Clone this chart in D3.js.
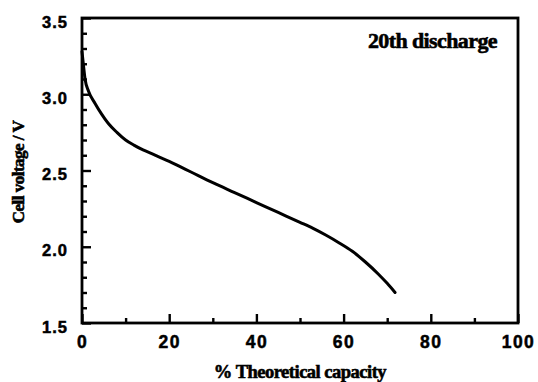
<!DOCTYPE html>
<html>
<head>
<meta charset="utf-8">
<script src="https://cdn.jsdelivr.net/npm/d3@7"></script>
<style>
  html, body { margin: 0; padding: 0; background: #fff; }
  svg { display: block; }
</style>
</head>
<body>
<svg id="chart" width="538" height="382"></svg>
<script>
// Discharge curve: cell voltage vs. % of theoretical capacity (20th discharge)
const capacity = [0, 0.3, 0.7, 1.5, 3, 4.5, 6, 8, 10, 12, 14, 16, 18, 20, 22.5, 25,
                  30, 35, 40, 45, 50, 53, 56, 59, 62, 65, 68, 70, 71.8];
const voltage  = [3.28, 3.20, 3.10, 3.02, 2.94, 2.87, 2.81, 2.75, 2.70, 2.665, 2.635, 2.61, 2.585, 2.56, 2.525, 2.49,
                  2.42, 2.355, 2.29, 2.225, 2.16, 2.12, 2.075, 2.025, 1.97, 1.90, 1.82, 1.76, 1.70];

const xTicks = [0, 20, 40, 60, 80, 100];
const xMinorTicks = [10, 30, 50, 70, 90];
const yTicks = [1.5, 2.0, 2.5, 3.0, 3.5];
const yMinorTicks = d3.range(16, 35).map(d => d / 10).filter(d => Math.abs(d * 2 - Math.round(d * 2)) > 1e-6);

const xTitle = "% Theoretical capacity";
const yTitle = "Cell voltage / V";
const note = "20th discharge";

const svg = d3.select("#chart");
const m = { left: 82, right: 20, top: 18, bottom: 59 };
const W = 538, H = 382;

const x = d3.scaleLinear().domain([0, 100]).range([m.left, W - m.right]);
const y = d3.scaleLinear().domain([1.5, 3.5]).range([H - m.bottom, m.top]);

const sans = "'Liberation Sans', Arial, sans-serif";
const serif = "'Liberation Serif', 'Times New Roman', serif";

// frame
svg.append("rect")
  .attr("x", x(0)).attr("y", y(3.5))
  .attr("width", x(100) - x(0)).attr("height", y(1.5) - y(3.5))
  .attr("fill", "none").attr("stroke", "#000").attr("stroke-width", 2.8);

// bottom axis: inward ticks
const gx = svg.append("g").attr("transform", `translate(0,${y(1.5)})`);
gx.call(d3.axisBottom(x).tickValues(xTicks).tickSize(-9).tickFormat(d3.format("d")).tickPadding(13));
gx.append("g").call(d3.axisBottom(x).tickValues(xMinorTicks).tickSize(-5).tickFormat(""));
gx.selectAll(".domain").remove();
gx.selectAll("line").attr("stroke", "#000").attr("stroke-width", 2.4);
gx.selectAll("text")
  .attr("font-family", sans).attr("font-weight", "bold").attr("font-size", 17.5)
  .attr("letter-spacing", 1.5).attr("fill", "#000")
  .attr("stroke", "#000").attr("stroke-width", 0.5);

// left axis: inward ticks
const gy = svg.append("g").attr("transform", `translate(${x(0)},0)`);
gy.call(d3.axisLeft(y).tickValues(yTicks).tickSize(-9).tickFormat(d3.format(".1f")).tickPadding(14));
gy.append("g").call(d3.axisLeft(y).tickValues(yMinorTicks).tickSize(-5).tickFormat(""));
gy.selectAll(".domain").remove();
gy.selectAll("line").attr("stroke", "#000").attr("stroke-width", 2.4);
gy.selectAll("text")
  .attr("font-family", sans).attr("font-weight", "bold").attr("font-size", 16.5)
  .attr("letter-spacing", 1).attr("fill", "#000").attr("dy", "0.55em")
  .attr("stroke", "#000").attr("stroke-width", 0.5);

// discharge curve
const line = d3.line()
  .x((d, i) => x(capacity[i]))
  .y(d => y(d))
  .curve(d3.curveMonotoneX);
svg.append("path")
  .datum(voltage)
  .attr("d", line)
  .attr("fill", "none").attr("stroke", "#000").attr("stroke-width", 3)
  .attr("stroke-linejoin", "round").attr("stroke-linecap", "round");

// titles
const titleStyle = sel => sel
  .attr("font-family", serif).attr("font-weight", "bold")
  .attr("fill", "#000").attr("stroke", "#000").attr("stroke-width", 0.6);

svg.append("text")
  .attr("x", 300).attr("y", 378)
  .attr("text-anchor", "middle")
  .attr("font-size", 18.5).attr("letter-spacing", -0.5)
  .call(titleStyle)
  .text(xTitle);

svg.append("text")
  .attr("transform", `translate(24,172) rotate(-90)`)
  .attr("text-anchor", "middle")
  .attr("font-size", 17).attr("letter-spacing", -0.5)
  .call(titleStyle)
  .text(yTitle);

svg.append("text")
  .attr("x", 497).attr("y", 48)
  .attr("text-anchor", "end")
  .attr("font-size", 22).attr("letter-spacing", -0.6)
  .call(titleStyle)
  .text(note);
</script>
</body>
</html>
